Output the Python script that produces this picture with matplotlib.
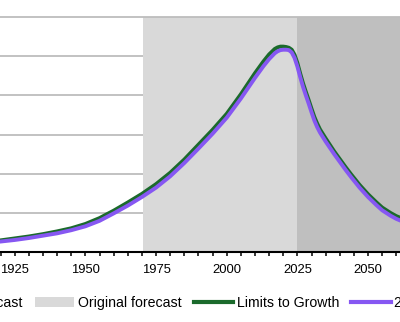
import matplotlib
matplotlib.use("Agg")
import matplotlib.pyplot as plt
from matplotlib.patches import Patch
from matplotlib.lines import Line2D

plt.rcParams['font.family'] = ['Liberation Sans', 'DejaVu Sans']

# Data
years = [1918, 1920, 1925, 1930, 1935, 1940, 1945, 1950, 1955, 1960, 1965, 1970,
         1975, 1980, 1985, 1990, 1995, 2000, 2005, 2010, 2013, 2015, 2017, 2018,
         2019, 2020, 2021, 2022, 2023, 2024, 2025, 2026, 2027, 2028, 2029, 2030,
         2031, 2032, 2033, 2035, 2038, 2040, 2042, 2044, 2047, 2050, 2053, 2055,
         2058, 2060, 2062]
recal = [0.25, 0.26, 0.30, 0.35, 0.41, 0.47, 0.55, 0.65, 0.79, 0.98, 1.18, 1.40,
         1.64, 1.93, 2.27, 2.64, 3.02, 3.43, 3.92, 4.45, 4.75, 4.93, 5.08, 5.13,
         5.16, 5.17, 5.17, 5.16, 5.10, 4.96, 4.74, 4.47, 4.22, 4.00, 3.79, 3.57,
         3.36, 3.19, 3.05, 2.82, 2.50, 2.30, 2.10, 1.91, 1.64, 1.40, 1.19, 1.06,
         0.92, 0.84, 0.78]
ltg = [0.28, 0.29, 0.34, 0.39, 0.45, 0.52, 0.60, 0.71, 0.86, 1.05, 1.26, 1.48,
       1.73, 2.02, 2.36, 2.74, 3.12, 3.53, 4.03, 4.57, 4.87, 5.05, 5.19, 5.23,
       5.25, 5.25, 5.24, 5.22, 5.17, 5.04, 4.83, 4.56, 4.31, 4.09, 3.88, 3.66,
       3.45, 3.28, 3.13, 2.90, 2.57, 2.37, 2.17, 1.98, 1.71, 1.47, 1.26, 1.13,
       0.99, 0.91, 0.85]
original_span = (1970.5, 2025)
updated_span = (2025, 2075)
major_ticks = [1925, 1950, 1975, 2000, 2025, 2050]
tick_labels = ['1925', '1950', '1975', '2000', '2025', '2050']
legend_labels = ['Updated forecast', 'Original forecast', 'Limits to Growth', '2020 recalibration']

W, H = 400, 322
fig = plt.figure(figsize=(W / 100, H / 100), dpi=100)
ax = fig.add_axes([0, (H - 251.7) / H, 1, (251.7 - 17.3) / H])

light = '#d9d9d9'
dark = '#bfbfbf'
green = '#1b6a2c'
purple = '#8657f2'

ax.axvspan(*original_span, color=light, lw=0, zorder=1)
ax.axvspan(*updated_span, color=dark, lw=0, zorder=1)

for yv in range(0, 6):
    ax.axhline(yv, color='#bdbdbd', lw=1.3, zorder=0.5)
ax.axhline(6, color='#bdbdbd', lw=1.3, zorder=2, clip_on=False)

ax.plot(years, ltg, color=green, lw=2.8, zorder=3, solid_capstyle='round',
        solid_joinstyle='round')
ax.plot(years, recal, color=purple, lw=2.8, zorder=4, solid_capstyle='round',
        solid_joinstyle='round')

for s in ['top', 'left', 'right']:
    ax.spines[s].set_visible(False)
ax.spines['bottom'].set_color('black')
ax.spines['bottom'].set_linewidth(1.5)
ax.spines['bottom'].set_zorder(5)

ax.set_xticks(major_ticks)
ax.set_xticklabels(tick_labels)
ax.set_xticks(list(range(1920, 2065, 5)), minor=True)
ax.tick_params(axis='x', which='both', length=3, width=1.1, color='black',
               labelsize=9.4, pad=5.5)
ax.set_yticks([])
ax.set_xlim(1919.8, 2061.3)
ax.set_ylim(0, 6)

handles = [Patch(facecolor=dark, edgecolor='none'),
           Patch(facecolor=light, edgecolor='none'),
           Line2D([], [], color=green, lw=3),
           Line2D([], [], color=purple, lw=3)]

def make_legend(x):
    return fig.legend(handles, legend_labels, loc='center left', ncol=4,
                      bbox_to_anchor=(x, 19 / H), frameon=False,
                      prop={'size': 10.2}, handlelength=2.8, handletextpad=0.25,
                      columnspacing=0.85, borderaxespad=0, borderpad=0)

leg = make_legend(0.0)
fig.canvas.draw()
tx = leg.get_texts()[1].get_window_extent().x0
leg.remove()
leg = make_legend((78 - tx) / W)

fig.savefig('out.png', dpi=100)
